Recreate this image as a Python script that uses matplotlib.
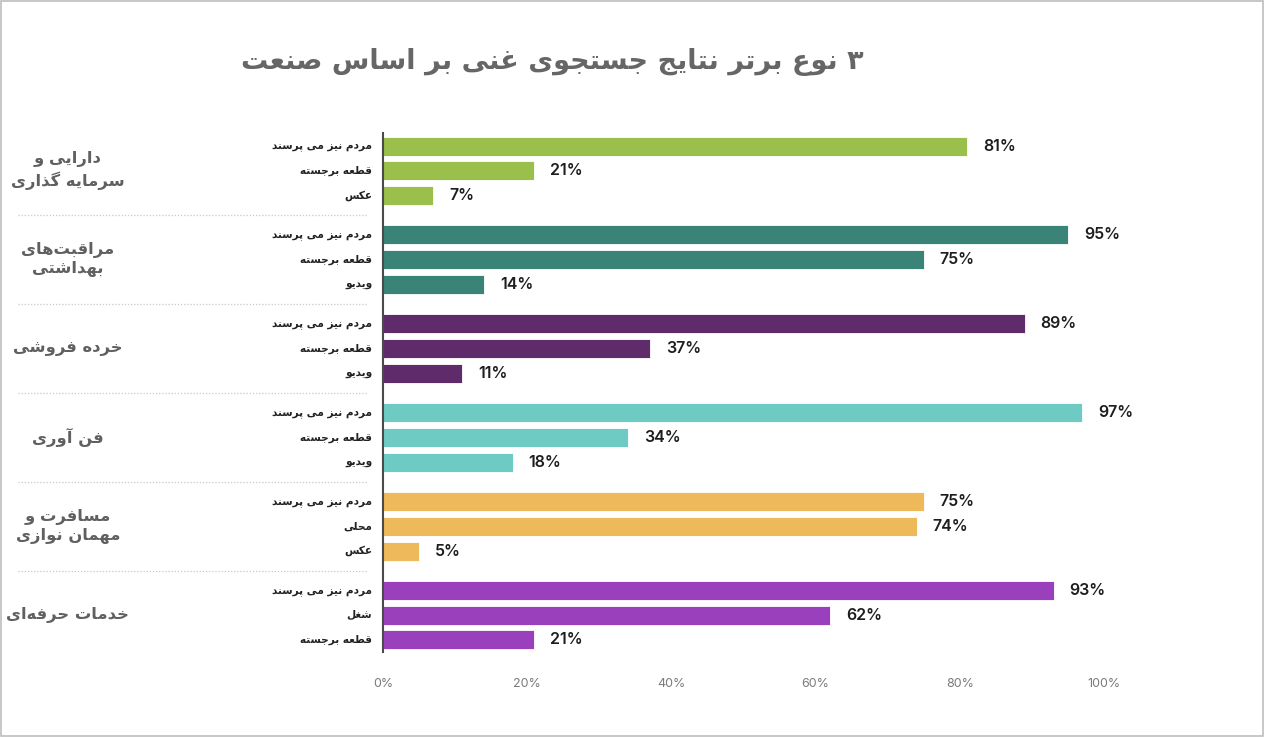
import matplotlib
matplotlib.use("Agg")
import matplotlib.pyplot as plt
import matplotlib.transforms as mtransforms
from matplotlib.patches import Rectangle

# --- data ---
title = "۳ نوع برتر نتایج جستجوی غنی بر اساس صنعت"
groups = ["دارایی و\nسرمایه گذاری", "مراقبت\u200cهای\nبهداشتی", "خرده فروشی",
          "فن آوری", "مسافرت و\nمهمان نوازی", "خدمات حرفه\u200cای"]
sub_labels = [
    ["مردم نیز می پرسند", "قطعه برجسته", "عکس"],
    ["مردم نیز می پرسند", "قطعه برجسته", "ویدیو"],
    ["مردم نیز می پرسند", "قطعه برجسته", "ویدیو"],
    ["مردم نیز می پرسند", "قطعه برجسته", "ویدیو"],
    ["مردم نیز می پرسند", "محلی", "عکس"],
    ["مردم نیز می پرسند", "شغل", "قطعه برجسته"],
]
values = [
    [81, 21, 7],
    [95, 75, 14],
    [89, 37, 11],
    [97, 34, 18],
    [75, 74, 5],
    [93, 62, 21],
]
colors = ["#9bbf4b", "#3a8377", "#5f2b6b", "#6ecbc4", "#edb95a", "#9b40bd"]
xticks = [0, 20, 40, 60, 80, 100]

# --- minimal arabic shaping (matplotlib has no bidi / shaping) ---
# isolated, final, initial, medial
FORMS = {
    "ا": ("\uFE8D", "\uFE8E", None, None), "آ": ("\uFE81", "\uFE82", None, None),
    "ب": ("\uFE8F", "\uFE90", "\uFE91", "\uFE92"), "پ": ("\uFB56", "\uFB57", "\uFB58", "\uFB59"),
    "ت": ("\uFE95", "\uFE96", "\uFE97", "\uFE98"), "ث": ("\uFE99", "\uFE9A", "\uFE9B", "\uFE9C"),
    "ج": ("\uFE9D", "\uFE9E", "\uFE9F", "\uFEA0"), "چ": ("\uFB7A", "\uFB7B", "\uFB7C", "\uFB7D"),
    "ح": ("\uFEA1", "\uFEA2", "\uFEA3", "\uFEA4"), "خ": ("\uFEA5", "\uFEA6", "\uFEA7", "\uFEA8"),
    "د": ("\uFEA9", "\uFEAA", None, None), "ذ": ("\uFEAB", "\uFEAC", None, None),
    "ر": ("\uFEAD", "\uFEAE", None, None), "ز": ("\uFEAF", "\uFEB0", None, None),
    "ژ": ("\uFB8A", "\uFB8B", None, None),
    "س": ("\uFEB1", "\uFEB2", "\uFEB3", "\uFEB4"), "ش": ("\uFEB5", "\uFEB6", "\uFEB7", "\uFEB8"),
    "ص": ("\uFEB9", "\uFEBA", "\uFEBB", "\uFEBC"), "ض": ("\uFEBD", "\uFEBE", "\uFEBF", "\uFEC0"),
    "ط": ("\uFEC1", "\uFEC2", "\uFEC3", "\uFEC4"), "ظ": ("\uFEC5", "\uFEC6", "\uFEC7", "\uFEC8"),
    "ع": ("\uFEC9", "\uFECA", "\uFECB", "\uFECC"), "غ": ("\uFECD", "\uFECE", "\uFECF", "\uFED0"),
    "ف": ("\uFED1", "\uFED2", "\uFED3", "\uFED4"), "ق": ("\uFED5", "\uFED6", "\uFED7", "\uFED8"),
    "ک": ("\uFB8E", "\uFB8F", "\uFB90", "\uFB91"), "گ": ("\uFB92", "\uFB93", "\uFB94", "\uFB95"),
    "ل": ("\uFEDD", "\uFEDE", "\uFEDF", "\uFEE0"), "م": ("\uFEE1", "\uFEE2", "\uFEE3", "\uFEE4"),
    "ن": ("\uFEE5", "\uFEE6", "\uFEE7", "\uFEE8"), "ه": ("\uFEE9", "\uFEEA", "\uFEEB", "\uFEEC"),
    "و": ("\uFEED", "\uFEEE", None, None),
    "ی": ("\uFBFC", "\uFBFD", "\uFBFE", "\uFBFF"),
}
LAM_ALEF = {"ا": ("\uFEFB", "\uFEFC"), "آ": ("\uFEF5", "\uFEF6")}


def joins_next(c):
    return c in FORMS and FORMS[c][2] is not None


def shape(text):
    out_lines = []
    for line in text.split("\n"):
        chars = list(line)
        res = []
        i = 0
        while i < len(chars):
            c = chars[i]
            if c == "\u200c":
                i += 1
                continue
            if c not in FORMS:
                res.append(c)
                i += 1
                continue
            prev = chars[i - 1] if i > 0 else ""
            link_prev = joins_next(prev)
            # lam-alef ligature
            if c == "ل" and i + 1 < len(chars) and chars[i + 1] in LAM_ALEF:
                iso, fin = LAM_ALEF[chars[i + 1]]
                res.append(fin if link_prev else iso)
                i += 2
                continue
            nxt = chars[i + 1] if i + 1 < len(chars) else ""
            link_next = joins_next(c) and nxt in FORMS
            iso, fin, ini, med = FORMS[c]
            if link_prev and link_next:
                res.append(med)
            elif link_prev:
                res.append(fin)
            elif link_next:
                res.append(ini)
            else:
                res.append(iso)
            i += 1
        out_lines.append("".join(res)[::-1])
    return "\n".join(out_lines)


FA = ["DejaVu Sans"]

fig = plt.figure(figsize=(12.65, 7.37), dpi=100)
fig.patches.append(Rectangle((0.0005, 0.002), 0.998, 0.996, transform=fig.transFigure,
                             fill=False, edgecolor="#bdbdbd", linewidth=1.2))

ax = fig.add_axes([383 / 1265, 1 - 652 / 737, 721 / 1265, 519 / 737])
ytrans = mtransforms.blended_transform_factory(ax.transAxes, ax.transData)

gap = 3.6
bar_h = 0.77
for g, (vals, labs) in enumerate(zip(values, sub_labels)):
    ys = [g * gap + i for i in range(len(vals))]
    ax.barh(ys, vals, height=bar_h, color=colors[g], edgecolor="white", linewidth=0.6)
    for y, v, lab in zip(ys, vals, labs):
        ax.text(v + 2.2, y, f"{v}%", va="center", ha="left", fontsize=11.5,
                fontfamily="Inter", fontweight="semibold", color="#1e1e1e")
        ax.text(-0.015, y, shape(lab), transform=ytrans,
                va="center", ha="right", fontsize=7.6, fontweight="bold", family=FA, color="#222222")
    ax.text(-0.437, g * gap + 1, shape(groups[g]), transform=ytrans,
            va="center", ha="center", fontsize=11.8, fontweight="bold", family=FA,
            color="#606060", linespacing=1.3, multialignment="center")
    if g < len(values) - 1:
        ysep = g * gap + 2.8
        ax.plot([-0.506, -0.021], [ysep, ysep], linestyle=(0, (1, 1.5)), color="#c8c8c8",
                linewidth=0.9, clip_on=False, transform=ytrans)

ax.set_xlim(0, 100)
ax.set_ylim(5 * gap + 2 + 0.49, -0.53)
ax.set_xticks(xticks)
ax.set_xticklabels([f"{t}%" for t in xticks], fontsize=9, color="#7a7a7a", fontfamily="Inter")
ax.tick_params(axis="x", length=0, pad=19)
ax.set_yticks([])
for s in ["top", "right", "bottom"]:
    ax.spines[s].set_visible(False)
ax.spines["left"].set_color("#4a4a4a")
ax.spines["left"].set_linewidth(1.5)

fig.text(552 / 1265, 1 - 62 / 737, shape(title), ha="center", va="center", fontsize=19.5,
         fontweight="bold", family=FA, color="#666666")

fig.savefig("out.png", dpi=100)
